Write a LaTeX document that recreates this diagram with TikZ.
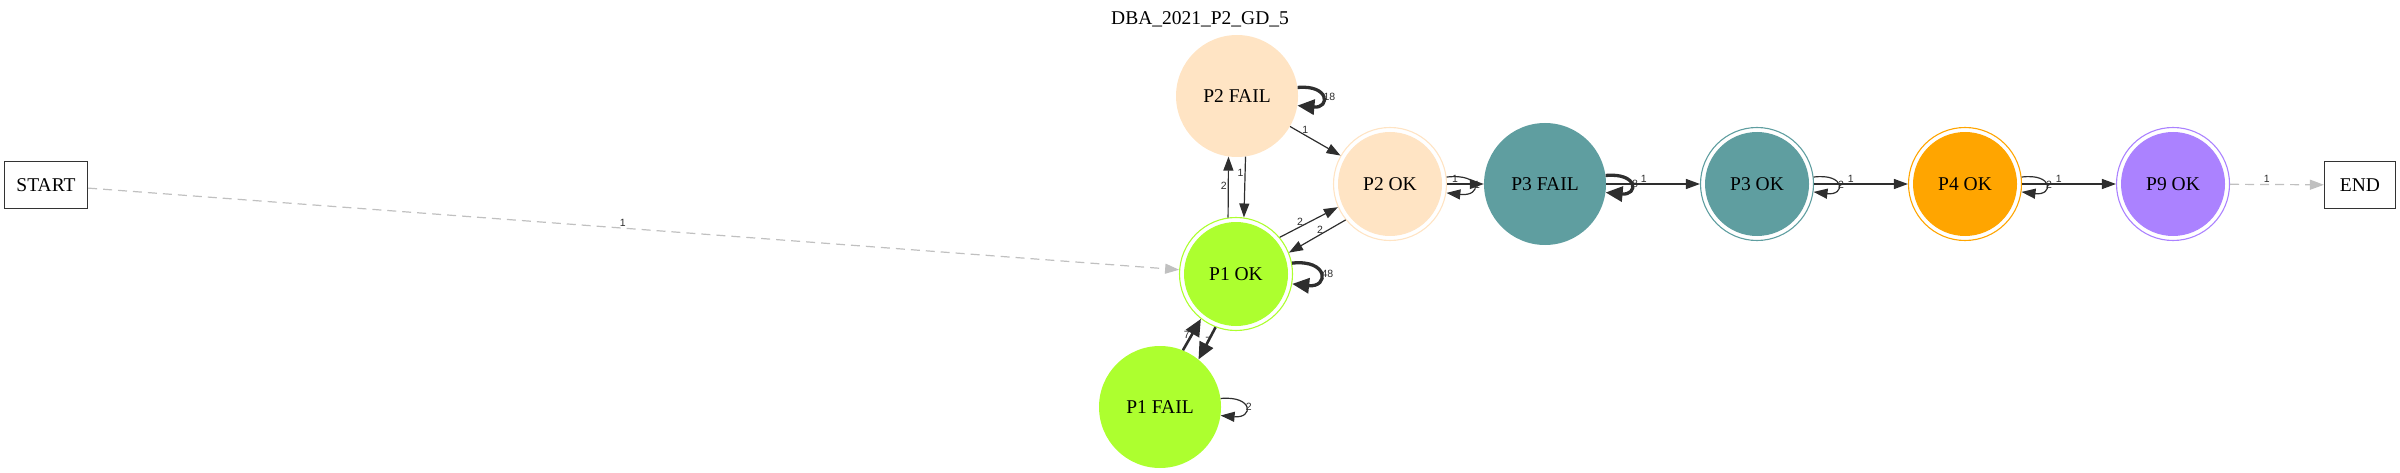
\documentclass[tikz,border=0pt]{standalone}
\usepackage{fontspec}
\setmainfont{Liberation Serif}
\newfontfamily\lblfont{Liberation Sans}
\usepackage{tikz}
\usetikzlibrary{arrows.meta}
\definecolor{p1green}{HTML}{ADFF2F}
\definecolor{p2bisque}{HTML}{FFE4C4}
\definecolor{p3teal}{HTML}{5F9EA0}
\definecolor{p4orange}{HTML}{FFA500}
\definecolor{p9purple}{HTML}{AB82FF}
\definecolor{edgegray}{HTML}{2E2E2E}
\definecolor{dashgray}{HTML}{C0C0C0}

\begin{document}
\begin{tikzpicture}[
    x=1pt, y=-1pt,
    font=\fontsize{19.5}{22}\selectfont,
    state/.style={circle, fill=#1, minimum size=122pt, inner sep=0pt},
    okstate/.style={circle, draw=#1, line width=1.1pt, fill=white, minimum size=113pt, inner sep=0pt,
                    path picture={\fill[#1] (path picture bounding box.center) circle (52pt);}},
    terminal/.style={rectangle, draw=black!80, line width=1.2pt, minimum height=47pt, inner sep=0pt},
    trans/.style={-{Triangle[length=14pt, width=10pt]}, line width=1.2pt, edgegray},
    heavy/.style={-{Triangle[length=17pt, width=15pt]}, line width=3.3pt, edgegray},
    ghost/.style={-{Triangle[length=14pt, width=10pt]}, line width=1.2pt, dashgray, dash pattern=on 9pt off 6pt},
    lbl/.style={font=\lblfont\fontsize{10.5}{12}\selectfont, text=edgegray, inner sep=1pt}
]
\useasboundingbox (0,0) rectangle (2400,473);

\node (title) at (1200,19) {DBA\_2021\_P2\_GD\_5};
\node[terminal, minimum width=83pt] (start) at (46,185) {START};
\node[terminal, minimum width=71pt] (end) at (2360,185) {END};
\node[state=p2bisque] (p2fail) at (1237,96) {P2 FAIL};
\node[okstate=p2bisque] (p2ok) at (1390,184) {P2 OK};
\node[state=p3teal] (p3fail) at (1545,184) {P3 FAIL};
\node[okstate=p3teal] (p3ok) at (1757,184) {P3 OK};
\node[okstate=p4orange] (p4ok) at (1965,184) {P4 OK};
\node[okstate=p9purple] (p9ok) at (2173,184) {P9 OK};
\node[okstate=p1green] (p1ok) at (1236,274) {P1 OK};
\node[state=p1green] (p1fail) at (1160,407) {P1 FAIL};

\draw[ghost] (start) -- (p1ok) node[lbl, pos=0.49, above] {1};

\draw[trans] (p1ok.98) -- (p2fail.262) node[lbl, pos=0.52, left] {2};
\draw[trans] (p2fail.278) -- (p1ok.82) node[lbl, pos=0.26, left] {1};
\draw[heavy] (p2fail.8) .. controls +(32,-3) and +(33,3) .. (p2fail.-9) node[lbl, pos=0.5, right, inner sep=0pt] {18};
\draw[trans] (p2fail) -- (p2ok) node[lbl, pos=0.3, above] {1};

\draw[trans] (p1ok.40) -- (p2ok.204) node[lbl, pos=0.35, above] {2};
\draw[trans] (p2ok.219) -- (p1ok.22) node[lbl, pos=0.45, above] {2};
\draw[heavy] (p1ok.11) .. controls +(37,-4) and +(37,4) .. (p1ok.-10) node[lbl, pos=0.5, right, inner sep=0pt] {48};

\draw[heavy, line width=2.6pt] (p1fail.68) -- (p1ok.232) node[lbl, pos=0.5, left] {7};
\draw[heavy, line width=2.6pt] (p1ok.249) -- (p1fail.51) node[lbl, pos=0.42] {7};
\draw[trans] (p1fail.8) .. controls +(33,-3) and +(33,3) .. (p1fail.-8) node[lbl, pos=0.5, right, inner sep=0pt] {2};

\draw[trans] (p2ok.7) .. controls +(36,-4) and +(36,4) .. (p2ok.-9) node[lbl, pos=0.5, right, inner sep=0pt] {1};
\draw[trans] (p2ok) -- (p3fail) node[lbl, pos=0.22, above] {1};

\draw[heavy] (p3fail.8) .. controls +(33,-3) and +(33,3) .. (p3fail.-8) node[lbl, pos=0.5, right, inner sep=0pt] {8};
\draw[trans] (p3fail) -- (p3ok) node[lbl, pos=0.4, above] {1};

\foreach \a/\b in {p3ok/p4ok, p4ok/p9ok} {
    \draw[trans] (\a.7) .. controls +(32,-4) and +(32,4) .. (\a.-8) node[lbl, pos=0.5, right, inner sep=0pt] {2};
    \draw[trans] (\a) -- (\b) node[lbl, pos=0.39, above] {1};
}

\draw[ghost] (p9ok) -- (end) node[lbl, pos=0.39, above] {1};
\end{tikzpicture}
\end{document}
